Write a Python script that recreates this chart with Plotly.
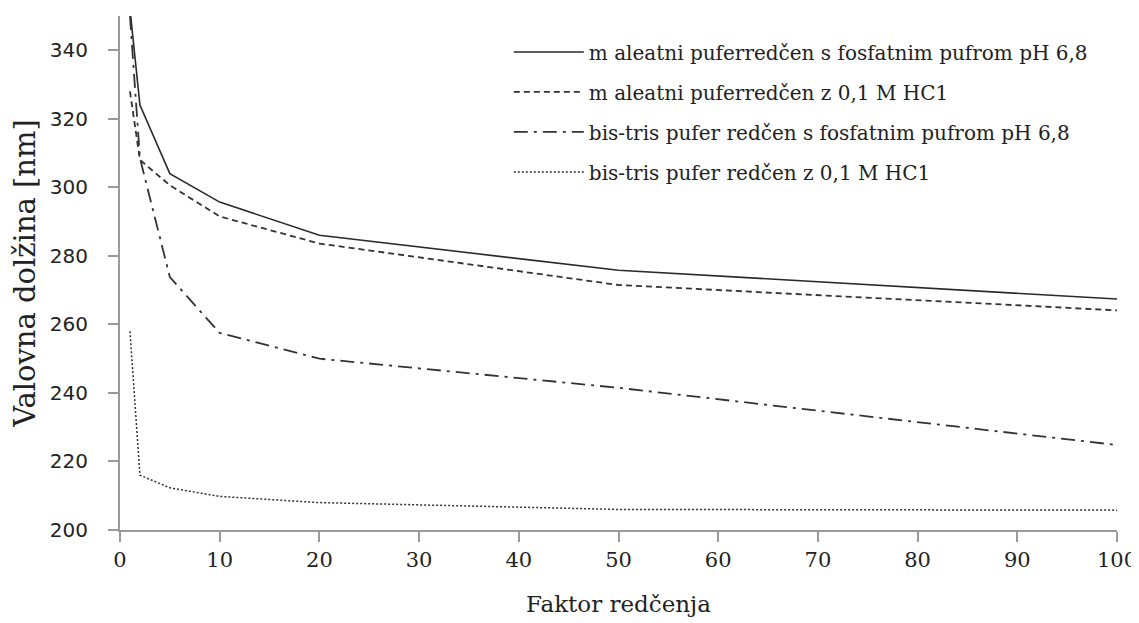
import plotly.graph_objects as go

factor = [1, 2, 5, 10, 20, 50, 100]
maleat_fosfat = [352, 324, 304, 295.7, 286, 275.8, 267.4]
maleat_hcl = [328, 308, 300.6, 291.5, 283.6, 271.5, 264.1]
bistris_fosfat = [350, 308.5, 273.8, 257.5, 250, 241.5, 224.8]
bistris_hcl = [258, 216, 212.3, 209.8, 208, 206, 205.8]

names = [
    "m aleatni puferredčen s fosfatnim pufrom pH 6,8",
    "m aleatni puferredčen z 0,1 M HC1",
    "bis-tris pufer redčen s fosfatnim pufrom pH 6,8",
    "bis-tris pufer redčen z 0,1 M HC1",
]
series = [maleat_fosfat, maleat_hcl, bistris_fosfat, bistris_hcl]
dashes = ["solid", "6px,4px", "14px,6px,3px,6px", "2px,2px"]
widths = [1.6, 1.8, 1.8, 1.5]
colors = ["#2a2a2a", "#333333", "#333333", "#333333"]

SERIF = "DejaVu Serif"

fig = go.Figure()
for i, (nm, ys) in enumerate(zip(names, series)):
    fig.add_trace(go.Scatter(
        x=factor, y=ys, mode="lines", name=nm, legendgroup=f"g{i}",
        line=dict(color=colors[i], width=widths[i], dash=dashes[i]),
    ))

axis_color = "#9a9a9a"
fig.update_layout(
    width=1139, height=623,
    margin=dict(l=112, r=30, t=8, b=101),
    paper_bgcolor="white", plot_bgcolor="white",
    font=dict(family=SERIF, color="#222222", size=18),
    showlegend=True,
    legend=dict(
        x=0.39, y=0.968, xanchor="left", yanchor="top",
        bgcolor="rgba(255,255,255,0)", tracegroupgap=11, itemwidth=70,
        font=dict(family=SERIF, size=20, color="#222222"),
    ),
    xaxis=dict(
        range=[0, 100], dtick=10, tick0=0,
        showgrid=False, zeroline=False,
        showline=True, linecolor=axis_color, linewidth=2,
        ticks="outside", ticklen=10, tickwidth=1.5, tickcolor=axis_color,
        tickfont=dict(family=SERIF, size=21, color="#222222"),
        title=dict(text="Faktor redčenja", font=dict(family=SERIF, size=23, color="#222222"), standoff=25),
    ),
    yaxis=dict(
        range=[200, 350], dtick=20, tick0=200,
        showgrid=False, zeroline=False,
        showline=True, linecolor=axis_color, linewidth=2,
        ticks="outside", ticklen=10, tickwidth=1.5, tickcolor=axis_color,
        ticklabelstandoff=16,
        tickfont=dict(family="DejaVu Sans", size=20, color="#222222"),
        title=dict(text="Valovna dolžina [nm]", font=dict(family=SERIF, size=29, color="#222222"), standoff=12),
    ),
)

fig.write_html("out.html")
